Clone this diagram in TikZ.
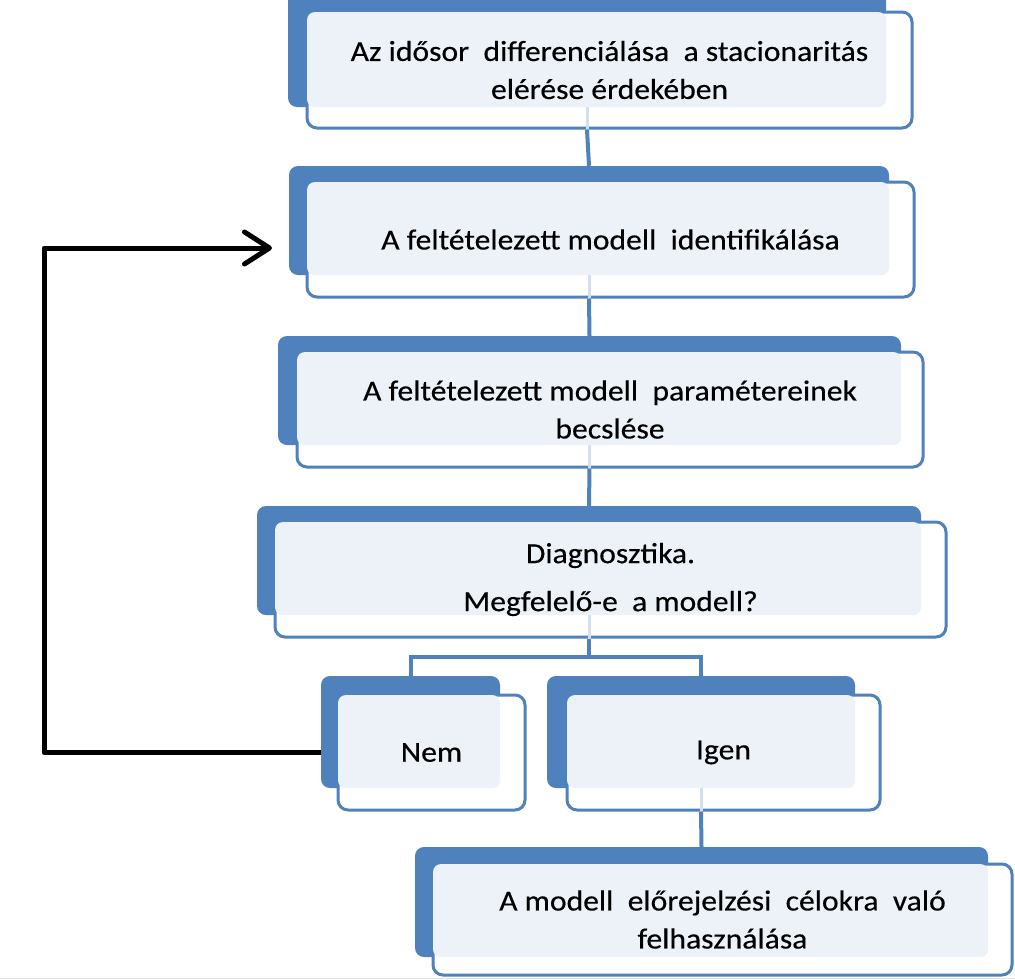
\documentclass[tikz,border=0pt]{standalone}
\usepackage{fontspec}
\setmainfont{Carlito}[FakeStretch=1.09,FakeBold=0.4]
\usetikzlibrary{arrows.meta,fit}
\definecolor{bbl}{HTML}{4F81BD}
\definecolor{lfill}{HTML}{EDF2F9}
\definecolor{faintc}{HTML}{D3DEEE}
\tikzset{
  backbox/.style={fill=bbl, draw=none, rounded corners=9pt, inner sep=0pt},
  frontbox/.style={fill=white, draw=bbl, line width=3pt, rounded corners=10pt, inner sep=0pt},
  lightbox/.style={fill=lfill, rounded corners=8pt},
  boxtext/.style={align=center, font=\fontsize{29}{38}\selectfont, text=black, inner sep=0pt},
  conn/.style={draw=bbl, line width=4pt},
  faintline/.style={draw=faintc, line width=3pt},
  backloop/.style={draw=black, line width=5pt, line join=round,
    -{Straight Barb[length=25pt,width=32pt,round]}},
}
\newcommand\dbox[6]{%
  \node[backbox, fit={#2 #3}] (#1b) {};
  \node[frontbox, fit={#4 #5}] (#1f) {};
  \fill[lightbox] ([xshift=1.5pt,yshift=-1.5pt]#1f.north west) rectangle (#1b.south east);
  \node[boxtext] (#1t) at (#1f.center) {#6};
}
\begin{document}
\begin{tikzpicture}[x=1pt,y=-1pt]
\useasboundingbox (0,0) rectangle (1015,980);
\clip (0,0) rectangle (1015,980);

\dbox{A}{(288,-10)}{(886,107)}{(307,12)}{(912,128)}{Az idősor~~differenciálása~~a stacionaritás\\elérése érdekében}
\dbox{B}{(289,166)}{(889,275)}{(307,182)}{(914,297)}{A feltételezett modell~~identifikálása}
\dbox{C}{(278,336)}{(901,445)}{(297,352)}{(923,467)}{A feltételezett modell~~paramétereinek\\becslése}
\dbox{D}{(257,506)}{(921,615)}{(275,522)}{(946,637)}{Diagnosztika.\\[10pt]Megfelelő-e~~a modell?}
\dbox{N}{(321,676)}{(500,788)}{(338,695)}{(525,810)}{Nem}
\dbox{I}{(547,676)}{(855,788)}{(567,695)}{(880,810)}{Igen}
\dbox{E}{(415,847)}{(988,957)}{(433,864)}{(1012,975)}{A modell~~előrejelzési~~célokra~~való\\felhasználása}

\draw[faintline] (Ab.south) -- (Ab.center |- Af.south);
\draw[faintline] (Bb.south) -- (Bb.center |- Bf.south);
\draw[faintline] (Cb.south) -- (Cb.center |- Cf.south);
\draw[faintline] (Db.south) -- (Db.center |- Df.south);
\draw[faintline] (Ib.south) -- (Ib.center |- If.south);

\draw[conn] (Ab.center |- Af.south) -- (Bb.north);
\draw[conn] (Bb.center |- Bf.south) -- (Cb.north);
\draw[conn] (Cb.center |- Cf.south) -- (Db.north);
\coordinate (split) at (589,657);
\draw[conn] (Db.center |- Df.south) -- (split);
\draw[conn] (Nb.north) |- (split) -| (Ib.north);
\draw[conn] (Ib.center |- If.south) -- (Eb.north);

\coordinate (lc) at (44,248);
\coordinate (tip) at (272,248);
\draw[backloop] (Nb.west |- Nf.center) -| (lc) -- (tip);

\draw[line width=1.5pt, black!12] (0,978.5) -- (1015,978.5);
\end{tikzpicture}
\end{document}
